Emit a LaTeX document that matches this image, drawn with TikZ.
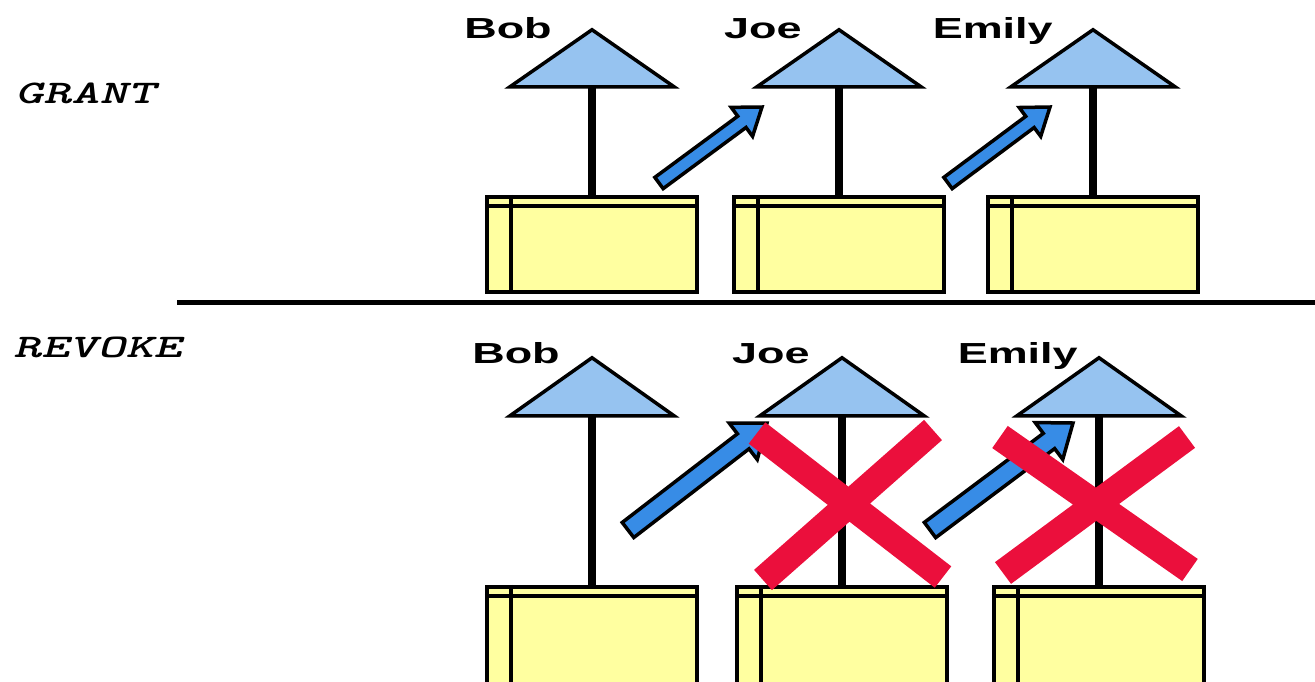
\documentclass[tikz,border=0pt]{standalone}
\usepackage{fontspec}
\setmainfont{Liberation Sans}
\newfontfamily\modefont{lmmonolt10-boldoblique.otf}
\usetikzlibrary{calc}

\definecolor{hatblue}{RGB}{150,195,240}
\definecolor{boxyellow}{RGB}{255,255,160}
\definecolor{arrowblue}{RGB}{55,140,230}
\definecolor{xred}{RGB}{235,15,60}

% fat outlined arrow: tail, tip, half shaft, half head, head length
\newcommand{\blockarrow}[5]{%
  \path ($(#2)!#5!(#1)$) coordinate (neck);
  \filldraw[fatarrow] ($(#1)!#3!90:(#2)$) -- ($(neck)!#3!90:(#2)$) -- ($(neck)!#4!90:(#2)$) -- (#2)
    -- ($(neck)!#4!-90:(#2)$) -- ($(neck)!#3!-90:(#2)$) -- ($(#1)!#3!-90:(#2)$) -- cycle;}

\begin{document}
\begin{tikzpicture}[x=1pt,y=-1pt,
    userbox/.style={draw,line width=4.5pt,fill=boxyellow,minimum width=210pt,minimum height=95pt,inner sep=0pt},
    boxline/.style={line width=4pt},
    stem/.style={line width=8.5pt},
    hat/.style={draw,line width=3.5pt,fill=hatblue,line join=miter},
    fatarrow/.style={draw,line width=3.5pt,fill=arrowblue,line join=miter},
    redcross/.style={line width=27pt,xred},
    username/.style={font=\bfseries\fontsize{29}{30}\selectfont,xscale=1.55,transform shape,anchor=base east,inner sep=0pt},
    modelabel/.style={font=\modefont\fontsize{33}{33}\selectfont,xscale=1.62,transform shape,anchor=west,inner sep=0pt}]
  \useasboundingbox (0,0) rectangle (1315,681);
  \clip (0,0) rectangle (1315,681);

  \node[modelabel] (grant) at (15,93) {GRANT};
  \node[modelabel] (revoke) at (13,347) {REVOKE};
  \draw[line width=5pt] (177,302) -- (1315,302);

  % grant row
  \foreach \n/\bx/\lx/\lab in {bob/592/552/Bob,joe/839/802/Joe,emily/1093/1053/Emily}{
    \node[userbox] (g\n) at (\bx,244.5) {};
    \draw[boxline] ([yshift=-11pt]g\n.north west) -- ([yshift=-11pt]g\n.north east)
      ([xshift=26pt]g\n.north west) -- ([xshift=26pt]g\n.south west);
    \draw[stem] (g\n.north) -- ++(0,-108) coordinate (g\n-top);
    \filldraw[hat] (g\n-top) ++(-82,0) -- ++(82,-57) -- ++(82,57) -- cycle;
    \node[username] (g\n-label) at (\lx,38) {\lab};
  }

  % revoke row
  \foreach \n/\bx/\lx/\lab in {bob/592/560/Bob,joe/842/810/Joe,emily/1099/1078/Emily}{
    \node[userbox,minimum height=100pt] (r\n) at (\bx,637) {};
    \draw[boxline] ([yshift=-11pt]r\n.north west) -- ([yshift=-11pt]r\n.north east)
      ([xshift=26pt]r\n.north west) -- ([xshift=26pt]r\n.south west);
    \draw[stem] (r\n.north) -- ++(0,-169) coordinate (r\n-top);
    \filldraw[hat] (r\n-top) ++(-82,0) -- ++(82,-58) -- ++(82,58) -- cycle;
    \node[username] (r\n-label) at (\lx,363) {\lab};
  }

  \coordinate (ga1) at (659,183);
  \coordinate (ga1-tip) at (762,107);
  \coordinate (ga2) at (948,183);
  \coordinate (ga2-tip) at (1050,107);
  \coordinate (ra1) at (628,530);
  \coordinate (ra1-tip) at (767,423);
  \coordinate (ra2) at (930,530);
  \coordinate (ra2-tip) at (1073,423);
  \blockarrow{ga1}{ga1-tip}{7pt}{18pt}{25pt}
  \blockarrow{ga2}{ga2-tip}{7pt}{18pt}{25pt}
  \blockarrow{ra1}{ra1-tip}{9.5pt}{23pt}{30pt}
  \blockarrow{ra2}{ra2-tip}{9.5pt}{23pt}{30pt}

  % crossed out
  \draw[redcross] (757,433) -- (943,577) (933,430) -- (763,580);
  \draw[redcross] (1000,437) -- (1190,570) (1187,437) -- (1003,573);
\end{tikzpicture}
\end{document}
